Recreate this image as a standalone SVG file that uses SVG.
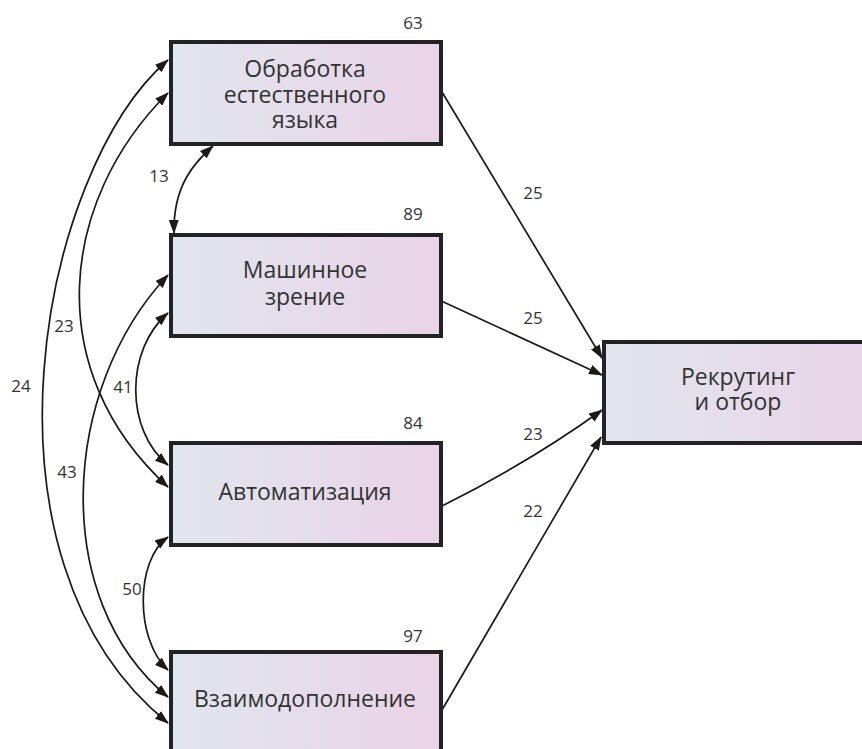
<svg xmlns="http://www.w3.org/2000/svg" width="862" height="749" viewBox="0 0 862 749">
<style>
.box{stroke:#232323;stroke-width:4;fill:url(#g)}
.t{font-family:"Open Sans","Liberation Sans",sans-serif;font-size:23px;fill:#333;text-anchor:middle}
.n{font-family:"Open Sans","Liberation Sans",sans-serif;font-size:17px;fill:#333;text-anchor:middle}
.e{fill:none;stroke:#1a1a1a;stroke-width:1.7}
.one{marker-end:url(#ah)}
.two{marker-start:url(#ah);marker-end:url(#ah)}
</style>
<defs>
<linearGradient id="g" x1="0" y1="0" x2="1" y2="0">
<stop offset="0" stop-color="#e1e6ee"/>
<stop offset="1" stop-color="#ead3e7"/>
</linearGradient>
<marker id="ah" markerUnits="userSpaceOnUse" markerWidth="14" markerHeight="10" refX="13" refY="5" orient="auto-start-reverse">
<path d="M0,0 L14,5 L0,10 z" fill="#1a1a1a"/>
</marker>
</defs>
<rect width="862" height="749" fill="#fff"/>
<g id="connectors">
<path class="e one" d="M442 92 L602 358"/>
<path class="e one" d="M437 299 L602 375"/>
<path class="e one" d="M442 506 Q530 462 602 410"/>
<path class="e one" d="M442 710 L601 437"/>
<path class="e two" d="M213 146 C195 162 173 185 174 233"/>
<path class="e two" d="M168 60 C40 170 -35 560 168 723"/>
<path class="e two" d="M168 93 C60 200 40 370 168 487"/>
<path class="e two" d="M168 275 C60 390 50 600 168 697"/>
<path class="e two" d="M168 313 C125 350 125 430 168 465"/>
<path class="e two" d="M168 537 C135 560 135 640 168 670"/>
<text class="n" x="533" y="199">25</text>
<text class="n" x="533" y="324">25</text>
<text class="n" x="533" y="440">23</text>
<text class="n" x="533" y="517">22</text>
<text class="n" x="159" y="182">13</text>
<text class="n" x="64" y="332">23</text>
<text class="n" x="21" y="392">24</text>
<text class="n" x="123" y="393">41</text>
<text class="n" x="67" y="478">43</text>
<text class="n" x="132" y="595">50</text>
</g>
<g id="node-nlp">
<rect class="box" x="171" y="42" width="270" height="102"/>
<text class="n" x="413" y="29">63</text>
<text class="t" x="305" y="77">Обработка</text>
<text class="t" x="305" y="103">естественного</text>
<text class="t" x="305" y="128">языка</text>
</g>
<g id="node-cv">
<rect class="box" x="171" y="235" width="270" height="101"/>
<text class="n" x="413" y="220">89</text>
<text class="t" x="305" y="278">Машинное</text>
<text class="t" x="305" y="305">зрение</text>
</g>
<g id="node-auto">
<rect class="box" x="171" y="443" width="270" height="102"/>
<text class="n" x="413" y="429">84</text>
<text class="t" x="305" y="500">Автоматизация</text>
</g>
<g id="node-compl">
<rect class="box" x="171" y="652" width="270" height="120"/>
<text class="n" x="413" y="642">97</text>
<text class="t" x="305" y="707">Взаимодополнение</text>
</g>
<g id="node-recruit">
<rect class="box" x="604" y="342" width="280" height="101"/>
<text class="t" x="738" y="385">Рекрутинг</text>
<text class="t" x="738" y="410">и отбор</text>
</g>
</svg>
